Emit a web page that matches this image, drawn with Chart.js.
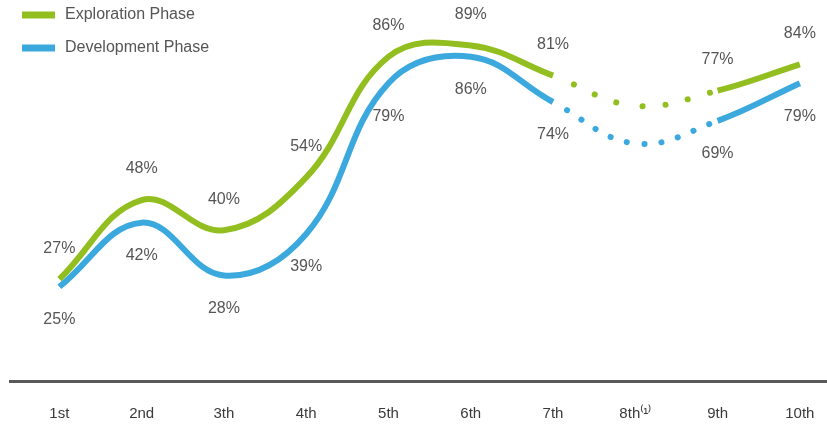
<!DOCTYPE html>
<html>
<head>
<meta charset="utf-8">
<script src="https://cdn.jsdelivr.net/npm/chart.js@4.4.1/dist/chart.umd.min.js"></script>
<style>
  html,body{margin:0;padding:0;background:#fff;}
  #wrap{width:827px;height:427px;position:relative;}
</style>
</head>
<body>
<div id="wrap"><canvas id="c"></canvas></div>
<script>
const categories = ['1st','2nd','3th','4th','5th','6th','7th','8th\u207D\u00B9\u207E','9th','10th'];
const exploration = [27, 48, 40, 54, 86, 89, 81, 73, 77, 84];
const development = [25, 42, 28, 39, 79, 86, 74, 63, 69, 79];
const estimatedIndex = 7; // 8th period shown dotted, no label

const GREEN = '#92bf1f';
const BLUE = '#3ba9de';
const TEXT = '#555555';
const FONT = '"Liberation Sans", Arial, sans-serif';

const dotted = (ctx) => (ctx.p0DataIndex === estimatedIndex || ctx.p1DataIndex === estimatedIndex);
const firstHalf = (ctx) => ctx.p1DataIndex === estimatedIndex;

function makeSeries(vals){ return vals.map((v,i)=>({x:i,y:v})); }

const valueLabels = {
  id: 'valueLabels',
  afterDatasetsDraw(chart){
    const c = chart.ctx;
    c.save();
    c.font = '16px ' + FONT;
    c.fillStyle = TEXT;
    c.textAlign = 'center';
    c.textBaseline = 'middle';
    chart.data.datasets.forEach((ds, di) => {
      const meta = chart.getDatasetMeta(di);
      meta.data.forEach((pt, i) => {
        if (i === estimatedIndex) return;
        const dy = di === 0 ? -31 : 33;
        c.fillText(ds.data[i].y + '%', pt.x, pt.y + dy);
      });
    });
    c.restore();
  }
};

const sideLegend = {
  id: 'sideLegend',
  afterDraw(chart){
    const c = chart.ctx;
    c.save();
    c.font = '16px ' + FONT;
    c.textBaseline = 'middle';
    c.textAlign = 'left';
    chart.data.datasets.forEach((ds, i) => {
      const y = 15 + i * 33;
      c.fillStyle = ds.borderColor;
      c.fillRect(22, y - 3.5, 33, 7);
      c.fillStyle = TEXT;
      c.fillText(ds.label, 65, y);
    });
    c.restore();
  }
};

new Chart(document.getElementById('c'), {
  type: 'line',
  data: {
    datasets: [
      {
        label: 'Exploration Phase',
        data: makeSeries(exploration),
        borderColor: GREEN,
        backgroundColor: GREEN,
        borderWidth: 6,
        tension: 0.4,
        pointRadius: 0,
        segment: {
          borderDash: ctx => dotted(ctx) ? [0.1, 23] : undefined,
          borderDashOffset: ctx => dotted(ctx) ? (firstHalf(ctx) ? 0.5 : 16) : 0,
          borderCapStyle: ctx => dotted(ctx) ? 'round' : 'butt'
        }
      },
      {
        label: 'Development Phase',
        data: makeSeries(development),
        borderColor: BLUE,
        backgroundColor: BLUE,
        borderWidth: 6,
        tension: 0.4,
        pointRadius: 0,
        segment: {
          borderDash: ctx => dotted(ctx) ? [0.1, 17] : undefined,
          borderDashOffset: ctx => dotted(ctx) ? (firstHalf(ctx) ? 1 : 8) : 0,
          borderCapStyle: ctx => dotted(ctx) ? 'round' : 'butt'
        }
      }
    ]
  },
  options: {
    responsive: true,
    maintainAspectRatio: false,
    animation: false,
    layout: { padding: { left: 10, right: 0, top: 4, bottom: 4 } },
    plugins: {
      tooltip: { enabled: false },
      legend: { display: false }
    },
    scales: {
      x: {
        type: 'linear',
        min: -0.6,
        max: 9.33,
        grid: { display: false },
        border: { display: true, color: '#5a5a5a', width: 3 },
        afterBuildTicks(scale){ scale.ticks = categories.map((_, i) => ({ value: i })); },
        afterFit(scale){ scale.height = 42; scale.paddingRight = 0; scale.paddingLeft = 0; },
        ticks: {
          padding: 16,
          color: '#3a3a3a',
          autoSkip: false,
          maxRotation: 0,
          minRotation: 0,
          font: { family: FONT, size: 15 },
          callback: (v) => categories[v]
        }
      },
      y: {
        display: false,
        min: 0,
        max: 100
      }
    }
  },
  plugins: [valueLabels, sideLegend]
});
</script>
</body>
</html>
